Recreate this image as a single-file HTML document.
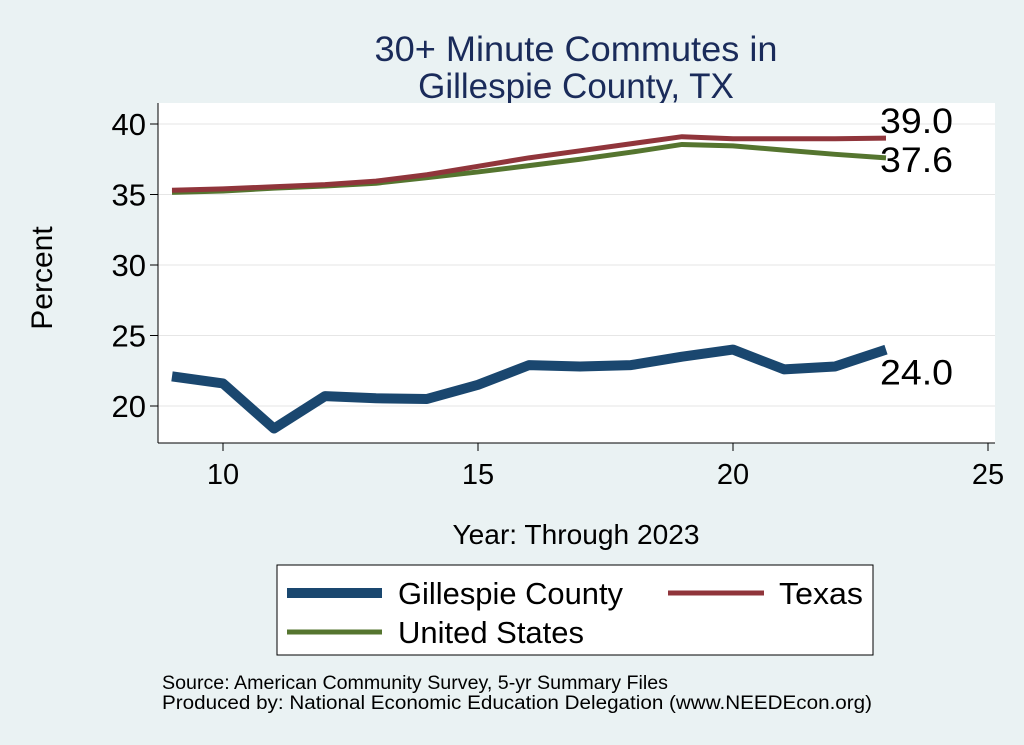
<!DOCTYPE html>
<html><head><meta charset="utf-8"><style>
body{margin:0;background:#eaf2f3;font-family:"Liberation Sans",Arial,sans-serif}
svg{display:block}
</style></head><body>
<svg width="1024" height="745">
<rect x="0" y="0" width="1024" height="745" fill="#eaf2f3"/>
<text x="576" y="61" font-size="35" fill="#1a2b5a" text-anchor="middle" textLength="403" lengthAdjust="spacingAndGlyphs">30+ Minute Commutes in</text>
<text x="576" y="98" font-size="35" fill="#1a2b5a" text-anchor="middle">Gillespie County, TX</text>
<rect x="158" y="103" width="837" height="340" fill="#fff"/>
<g id="grid"></g>
<g id="series"></g>
<g id="axes"></g>
<text x="52" y="278" font-size="30" text-anchor="middle" transform="rotate(-90 52 278)">Percent</text>
<text x="576" y="544" font-size="28" text-anchor="middle" textLength="247" lengthAdjust="spacingAndGlyphs">Year: Through 2023</text>
<g>
<rect x="277" y="565" width="596" height="90" fill="#fff" stroke="#000" stroke-width="1"/>
<line x1="287" y1="593" x2="382" y2="593" stroke="#1a476f" stroke-width="10"/>
<text x="398" y="604" font-size="31" textLength="225" lengthAdjust="spacingAndGlyphs">Gillespie County</text>
<line x1="668" y1="593" x2="764" y2="593" stroke="#90353b" stroke-width="5"/>
<text x="779" y="604" font-size="31" textLength="84" lengthAdjust="spacingAndGlyphs">Texas</text>
<line x1="287" y1="632" x2="382" y2="632" stroke="#55752f" stroke-width="5"/>
<text x="398" y="643" font-size="31" textLength="186" lengthAdjust="spacingAndGlyphs">United States</text>
</g>
<text x="162" y="689" font-size="19" textLength="506" lengthAdjust="spacingAndGlyphs">Source: American Community Survey, 5-yr Summary Files</text>
<text x="162" y="709" font-size="19" textLength="710" lengthAdjust="spacingAndGlyphs">Produced by: National Economic Education Delegation (www.NEEDEcon.org)</text>
</svg>
<script>
const years=[9,10,11,12,13,14,15,16,17,18,19,20,21,22,23];
const gillespie=[22.1,21.6,18.4,20.7,20.55,20.5,21.5,22.9,22.8,22.9,23.5,24.0,22.6,22.8,24.0];
const texas=[35.3,35.4,35.55,35.7,35.95,36.4,37.0,37.6,38.1,38.6,39.1,38.95,38.95,38.95,39.0];
const us=[35.15,35.25,35.45,35.6,35.8,36.2,36.6,37.05,37.5,38.0,38.55,38.45,38.15,37.85,37.6];
const xTicks=[10,15,20,25];
const yTicks=[20,25,30,35,40];
const NS="http://www.w3.org/2000/svg";
const X=v=>223+(v-10)*51;
const Y=v=>124+(40-v)*14.1;
function mk(tag,attrs,parent){const e=document.createElementNS(NS,tag);for(const k in attrs)e.setAttribute(k,attrs[k]);document.getElementById(parent).appendChild(e);return e;}
yTicks.forEach(t=>{
 const g=mk('line',{x1:158,x2:995,y1:Y(t),y2:Y(t),stroke:'#e6e6e6','stroke-width':1},'grid');
 
 
 const tk=mk('line',{x1:150,x2:158,y1:Y(t),y2:Y(t),stroke:'#000'},'axes');
 
 
 const tx=mk('text',{x:146,y:Y(t)+11,'font-size':31,'text-anchor':'end'},'axes');
 tx.textContent=t;
 
 
});
xTicks.forEach(t=>{
 const tk=mk('line',{x1:X(t),x2:X(t),y1:443,y2:451,stroke:'#000'},'axes');
 
 
 const tx=mk('text',{x:X(t),y:484,'font-size':29,'text-anchor':'middle'},'axes');
 tx.textContent=t;
 
 
});
const ya=mk('line',{x1:158,x2:158,y1:103,y2:443,stroke:'#000'},'axes');


const xa=mk('line',{x1:158,x2:995,y1:443,y2:443,stroke:'#000'},'axes');


function line(vals,color,w,name){
 const p=mk('polyline',{points:vals.map((v,i)=>X(years[i])+','+Y(v)).join(' '),fill:'none',stroke:color,'stroke-width':w,'stroke-linejoin':'round'},'series');
 
 
}
line(us,'#55752f',5,'line-united-states');
line(texas,'#90353b',5,'line-texas');
line(gillespie,'#1a476f',10,'line-gillespie');
const n=years.length-1;
function lab(v,dy,name){const t=mk('text',{x:X(years[n])-6,y:Y(v)+dy,'font-size':35,textLength:73,lengthAdjust:'spacingAndGlyphs'},'series');t.textContent=v.toFixed(1);}
lab(texas[n],-5,'label-texas-last');
lab(us[n],14,'label-us-last');
lab(gillespie[n],35,'label-gillespie-last');
</script>
</body></html>
